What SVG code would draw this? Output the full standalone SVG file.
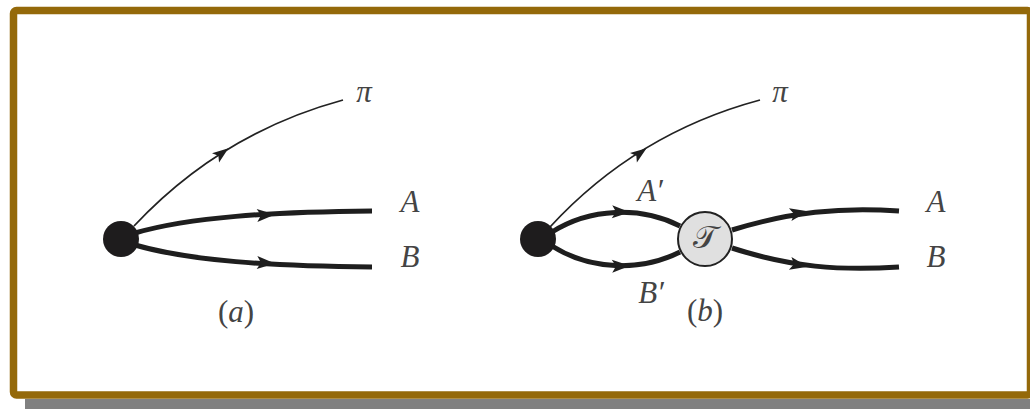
<svg xmlns="http://www.w3.org/2000/svg" width="1030" height="409" viewBox="0 0 1030 409">
<style>
.thin{fill:none;stroke:#222;stroke-width:1.8}
.thick{fill:none;stroke:#1e1e1e;stroke-width:5}
.lbl{font-family:"Liberation Serif","Times New Roman",serif;font-style:italic;font-size:31px;fill:#444;text-anchor:middle}
.par{font-family:"Liberation Serif","Times New Roman",serif;font-size:31px;fill:#444;text-anchor:middle}
.dot{fill:#1e1c1d}
</style>
<defs>
<path id="ah" d="M-9,-6.5 L9,0 L-9,6.5 L-5,0 Z" fill="#1e1e1e"/>
</defs>
<rect x="25" y="399" width="1005" height="10" fill="#808080"/>
<rect x="13.5" y="10.5" width="1017" height="384.5" rx="3" fill="#fff" stroke="#94690a" stroke-width="7.5"/>
<g id="connectors">
<path class="thin" d="M134,226 C192,164 262,122 343,100"/>
<path class="thick" d="M135,233 C190,217 270,212 372,211"/>
<path class="thick" d="M135,245 C190,261 270,266 372,267"/>
<path class="thin" d="M550,227 C608,164 678,122 760,100"/>
<path class="thick" d="M552,232 C590,208 640,206 680,226"/>
<path class="thick" d="M552,246 C590,270 640,272 680,252"/>
<path class="thick" d="M732,230 C790,212 840,207 899,211"/>
<path class="thick" d="M732,248 C790,267 840,271 899,267"/>
<use href="#ah" transform="translate(222,153) rotate(-37) scale(.9)"/>
<use href="#ah" transform="translate(640,153) rotate(-36) scale(.9)"/>
<use href="#ah" transform="translate(266,215) rotate(-3)"/>
<use href="#ah" transform="translate(266,263) rotate(3)"/>
<use href="#ah" transform="translate(621,212) rotate(2)"/>
<use href="#ah" transform="translate(621,266) rotate(-2)"/>
<use href="#ah" transform="translate(799,213) rotate(-11)"/>
<use href="#ah" transform="translate(799,265) rotate(11)"/>
</g>
<g id="a-vertex"><circle class="dot" cx="121" cy="239" r="18"/></g>
<g id="b-vertex"><circle class="dot" cx="538" cy="239" r="18"/></g>
<g id="t-node">
<circle cx="705" cy="239" r="27" fill="#e0e0e0" stroke="#222" stroke-width="2"/>
<text class="lbl" x="705" y="248" style="font-family:'DejaVu Serif','DejaVu Sans',serif;font-size:32px;font-style:normal">𝒯</text>
</g>
<g id="labels-a">
<text class="lbl" x="364" y="102">π</text>
<text class="lbl" x="410" y="212">A</text>
<text class="lbl" x="410" y="267">B</text>
<text class="par" x="236" y="322">(<tspan font-style="italic">a</tspan>)</text>
</g>
<g id="labels-b">
<text class="lbl" x="780" y="102">π</text>
<text class="lbl" x="936" y="212">A</text>
<text class="lbl" x="936" y="267">B</text>
<text class="lbl" x="650" y="201">A′</text>
<text class="lbl" x="651" y="303">B′</text>
<text class="par" x="705" y="321">(<tspan font-style="italic">b</tspan>)</text>
</g>
</svg>
